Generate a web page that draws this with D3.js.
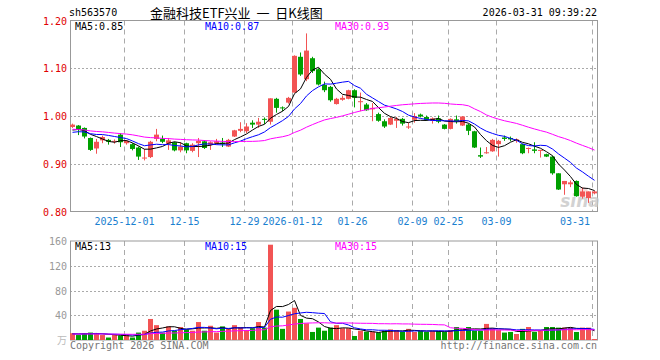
<!DOCTYPE html>
<html>
<head>
<meta charset="utf-8">
<script src="https://cdn.jsdelivr.net/npm/d3@7"></script>
<style>
body { margin: 0; background: #fff; }
text { font-family: "DejaVu Sans Mono", "Liberation Mono", monospace; }
</style>
</head>
<body>
<div id="chart"></div>
<script>
// trading days shown
var dates = [
  "2025-11-18","2025-11-19","2025-11-20","2025-11-21","2025-11-24","2025-11-25","2025-11-26","2025-11-27","2025-11-28",
  "2025-12-01","2025-12-02","2025-12-03","2025-12-04","2025-12-05","2025-12-08","2025-12-09","2025-12-10","2025-12-11","2025-12-12",
  "2025-12-15","2025-12-16","2025-12-17","2025-12-18","2025-12-19","2025-12-22","2025-12-23","2025-12-24","2025-12-25","2025-12-26",
  "2025-12-29","2025-12-30","2025-12-31","2026-01-05","2026-01-06","2026-01-07","2026-01-08","2026-01-09",
  "2026-01-12","2026-01-13","2026-01-14","2026-01-15","2026-01-16","2026-01-19","2026-01-20","2026-01-21","2026-01-22","2026-01-23",
  "2026-01-26","2026-01-27","2026-01-28","2026-01-29","2026-01-30","2026-02-02","2026-02-03","2026-02-04","2026-02-05","2026-02-06",
  "2026-02-09","2026-02-10","2026-02-11","2026-02-12","2026-02-13","2026-02-24",
  "2026-02-25","2026-02-26","2026-02-27","2026-03-02","2026-03-03","2026-03-04","2026-03-05","2026-03-06",
  "2026-03-09","2026-03-10","2026-03-11","2026-03-12","2026-03-13","2026-03-16","2026-03-17","2026-03-18","2026-03-19","2026-03-20",
  "2026-03-23","2026-03-24","2026-03-25","2026-03-26","2026-03-27","2026-03-30","2026-03-31"
];
var opens = [
  0.977,0.980,0.975,0.954,0.932,0.949,0.950,0.946,0.961,
  0.943,0.941,0.934,0.911,0.914,0.952,0.952,0.942,0.945,0.928,
  0.943,0.927,0.943,0.947,0.940,0.943,0.944,0.936,0.957,0.969,
  0.968,0.986,0.982,0.994,0.988,1.036,1.018,1.028,
  1.049,1.124,1.077,1.121,1.098,1.065,1.061,1.025,1.034,1.036,
  1.054,1.029,1.024,1.014,1.004,0.989,0.982,0.990,0.994,0.976,
  0.992,1.003,0.998,0.990,0.995,0.982,
  0.973,0.993,0.980,0.982,0.968,0.918,0.922,0.926,
  0.941,0.955,0.954,0.948,0.941,0.931,0.930,0.927,0.920,0.915,
  0.880,0.857,0.857,0.864,0.831,0.828,0.838
];
var highs = [
  0.984,0.981,0.976,0.955,0.952,0.959,0.952,0.951,0.964,
  0.950,0.943,0.936,0.931,0.948,0.973,0.959,0.954,0.946,0.945,
  0.944,0.943,0.954,0.949,0.947,0.952,0.954,0.952,0.971,0.987,
  0.985,0.991,0.996,0.997,1.037,1.038,1.020,1.040,
  1.127,1.133,1.173,1.124,1.100,1.072,1.063,1.038,1.043,1.055,
  1.056,1.049,1.027,1.027,1.007,0.993,0.998,0.998,0.996,0.986,
  1.006,1.005,1.001,0.997,1.001,0.983,
  0.995,1.001,1.000,0.984,0.969,0.934,0.935,0.952,
  0.950,0.959,0.957,0.953,0.942,0.934,0.945,0.929,0.921,0.917,
  0.880,0.864,0.865,0.865,0.850,0.842,0.844
];
var lows = [
  0.975,0.960,0.953,0.927,0.921,0.943,0.940,0.942,0.935,
  0.940,0.928,0.908,0.907,0.912,0.947,0.943,0.929,0.926,0.924,
  0.922,0.924,0.914,0.931,0.929,0.940,0.935,0.935,0.956,0.966,
  0.964,0.975,0.975,0.983,0.982,1.007,1.010,1.026,
  1.049,1.084,1.073,1.090,1.064,1.050,1.030,1.024,1.032,1.035,
  1.018,1.010,1.011,0.989,0.988,0.975,0.981,0.975,0.980,0.973,
  0.986,0.997,0.990,0.984,0.985,0.972,
  0.972,0.984,0.979,0.960,0.933,0.912,0.921,0.925,
  0.915,0.948,0.947,0.944,0.920,0.922,0.922,0.913,0.914,0.877,
  0.845,0.835,0.851,0.831,0.827,0.818,0.836
];
var closes = [
  0.982,0.971,0.957,0.929,0.946,0.956,0.946,0.948,0.945,
  0.948,0.931,0.915,0.913,0.946,0.961,0.946,0.949,0.928,0.936,
  0.928,0.940,0.948,0.933,0.945,0.947,0.941,0.950,0.970,0.973,
  0.978,0.982,0.988,0.992,1.037,1.017,1.016,1.038,
  1.126,1.087,1.137,1.094,1.066,1.054,1.033,1.036,1.038,1.054,
  1.038,1.031,1.012,1.017,0.990,0.978,0.996,0.994,0.984,0.978,
  1.000,0.999,0.992,0.995,0.988,0.973,
  0.994,0.989,0.999,0.969,0.934,0.915,0.924,0.950,
  0.948,0.952,0.951,0.951,0.922,0.933,0.927,0.929,0.915,0.880,
  0.846,0.864,0.861,0.832,0.842,0.842,0.842
];
// volume in 万
var volumes = [
  11,8,11,12,11,8,4,8,7,
  8,4,12,15,34,24,12,22,15,21,
  17,15,29,15,23,12,22,18,24,21,
  16,19,29,20,154,49,18,46,
  52,34,27,13,20,15,20,24,19,19,
  6.5,15,13.5,13.5,12,15,17,16,13.5,18,
  13,14.6,13,14.6,14.6,13,
  16,21,17,21,15,15,26,19,
  16,12,13,9.7,18,21,13,14.6,21,21,
  20,20,20,13,20,20,1.6
];
// the 29 sessions before the first one shown, only used by the moving averages
var prevCloses = [0.984,0.990,0.987,0.981,0.978,0.985,0.988,0.980,0.975,0.979,0.984,0.986,0.979,0.976,0.981,
  0.962,0.957,0.954,0.950,0.953,0.958,0.962,0.966,0.962,0.957,0.965,0.970,0.967,0.969];
var prevVolumes = [10,9,11,12,8,10,9,11,10,8,9,12,10,9,8,10,11,9,10,8,9,10,11,9,8,10,9,11,10];

var priceTicks = [0.80, 0.90, 1.00, 1.10, 1.20];
var volumeTicks = [40, 80, 120, 160];
var tickDates = ["2025-12-01","2025-12-15","2025-12-29","2026-01-12","2026-01-26","2026-02-09","2026-02-25","2026-03-09","2026-03-31"];
var tickLabels = ["2025-12-01","12-15","12-29","2026-01-12","01-26","02-09","02-25","03-09","03-31"];
var priceMaLabels = ["MA5:0.85", "MA10:0.87", "MA30:0.93"];
var volumeMaLabels = ["MA5:13", "MA10:15", "MA30:15"];
var maPeriods = [5, 10, 30];
var maColors = ["#000000", "#0000ff", "#ff00ff"];

var upColor = "#f25454", downColor = "#00a000", gridColor = "#aaaaaa";
var W = 660, H = 360;
var left = 70, right = 597;
var priceTop = 20.5, priceBottom = 211.5;
var volTop = 241, volBottom = 340;

var svg = d3.select("#chart").append("svg").attr("width", W).attr("height", H);

var x = d3.scaleBand().domain(d3.range(dates.length)).range([left, right]).paddingInner(1 / 6).paddingOuter(0);
var yP = d3.scaleLinear().domain([0.8, 1.2]).range([priceBottom, priceTop]);
var yV = d3.scaleLinear().domain([0, 160]).range([volBottom, volTop]);
var bw = x.bandwidth();

function movingAvg(prev, values, n) {
  var all = prev.concat(values);
  return values.map(function (v, i) {
    var k = i + prev.length;
    return d3.mean(all.slice(k - n + 1, k + 1));
  });
}

// header
svg.append("text").attr("x", 69).attr("y", 16).attr("font-size", 10).attr("fill", "#000").text("sh563570");
svg.append("text").attr("x", 150).attr("y", 18).attr("font-size", 13)
  .style("font-family", "'Noto Sans CJK SC', sans-serif").style("white-space", "pre").attr("fill", "#000")
  .text("金融科技ETF兴业  一  日K线图");
svg.append("text").attr("x", 597).attr("y", 16).attr("font-size", 10).attr("text-anchor", "end")
  .attr("fill", "#000").text("2026-03-31 09:39:22");

function drawPanel(top, bottom, yScale, hTicks) {
  let g = svg.append("g");
  // horizontal dotted grid
  g.selectAll(".hgrid").data(hTicks).enter().append("line")
    .attr("x1", left).attr("x2", right)
    .attr("y1", d => Math.round(yScale(d)) + 0.5).attr("y2", d => Math.round(yScale(d)) + 0.5)
    .attr("stroke", gridColor).attr("stroke-dasharray", "2,2");
  // vertical dashed grid at date ticks
  g.selectAll(".vgrid").data(tickDates).enter().append("line")
    .attr("x1", d => x(dates.indexOf(d)) + 0.5).attr("x2", d => x(dates.indexOf(d)) + 0.5)
    .attr("y1", top).attr("y2", bottom)
    .attr("stroke", gridColor).attr("stroke-dasharray", "5,4");
  g.append("rect").attr("x", left + 0.5).attr("y", top).attr("width", right - left).attr("height", bottom - top)
    .attr("fill", "none").attr("stroke", "#999");
  return g;
}

drawPanel(priceTop, priceBottom, yP, [0.90, 1.00, 1.10]);
drawPanel(volTop, volBottom, yV, [40, 80, 120]);

// price axis labels
svg.selectAll(".ptick").data(priceTicks).enter().append("text")
  .attr("x", 67).attr("y", d => yP(d) + 4).attr("text-anchor", "end").attr("font-size", 10)
  .attr("fill", "#e00000").text(d => d.toFixed(2));

// volume axis labels
svg.selectAll(".vtick").data(volumeTicks).enter().append("text")
  .attr("x", 67).attr("y", d => yV(d) + 4).attr("text-anchor", "end").attr("font-size", 10)
  .attr("fill", "#999").text(d => d);
svg.append("text").attr("x", 67).attr("y", volBottom + 4).attr("text-anchor", "end").attr("font-size", 10)
  .style("font-family", "'Noto Sans CJK SC', sans-serif").attr("fill", "#bbb").text("万");

// date labels
svg.selectAll(".dtick").data(tickDates).enter().append("text")
  .attr("x", function (d) {
    let cx = x(dates.indexOf(d)) + 0.5;
    let w = tickLabels[tickDates.indexOf(d)].length * 6;
    return Math.min(cx, 590 - w / 2);
  })
  .attr("y", 225).attr("text-anchor", "middle").attr("font-size", 10).attr("fill", "#1a80d0")
  .text((d, i) => tickLabels[i]);

// watermark
svg.append("text").attr("x", 580).attr("y", 207).attr("text-anchor", "middle")
  .attr("font-size", 17).attr("font-style", "italic").attr("font-weight", "bold")
  .style("font-family", "'DejaVu Sans', sans-serif")
  .attr("fill", "#c8c8c8").attr("opacity", 0.8).text("sina");
svg.append("circle").attr("cx", 583).attr("cy", 192).attr("r", 5).attr("fill", "#f0a0a0").attr("opacity", 0.4);

// candles
var candles = svg.append("g").selectAll("g").data(dates).enter().append("g");
candles.append("line")
  .attr("x1", (d, i) => x(i) + 2.5).attr("x2", (d, i) => x(i) + 2.5)
  .attr("y1", (d, i) => yP(highs[i])).attr("y2", (d, i) => yP(lows[i]))
  .attr("stroke", (d, i) => closes[i] >= opens[i] ? upColor : downColor);
candles.append("rect")
  .attr("x", (d, i) => x(i)).attr("width", bw)
  .attr("y", (d, i) => yP(Math.max(opens[i], closes[i])))
  .attr("height", (d, i) => Math.max(1, Math.abs(yP(opens[i]) - yP(closes[i]))))
  .attr("fill", (d, i) => closes[i] >= opens[i] ? upColor : downColor);

// volume bars
svg.append("g").selectAll("rect").data(volumes).enter().append("rect")
  .attr("x", (d, i) => x(i)).attr("width", bw)
  .attr("y", d => yV(d)).attr("height", d => volBottom - yV(d))
  .attr("fill", (d, i) => closes[i] >= opens[i] ? upColor : downColor);

// moving average lines
maPeriods.forEach(function (n, k) {
  let pm = movingAvg(prevCloses, closes, n);
  let vm = movingAvg(prevVolumes, volumes, n);
  let line = d3.line().x((d, i) => x(i) + 2.5);
  svg.append("path").datum(pm).attr("fill", "none").attr("stroke", maColors[k]).attr("stroke-width", 1)
    .attr("d", line.y(d => yP(d)));
  svg.append("path").datum(vm).attr("fill", "none").attr("stroke", maColors[k]).attr("stroke-width", 1)
    .attr("d", line.y(d => yV(d)));
});

// MA legends
[0, 1, 2].forEach(function (k) {
  svg.append("text").attr("x", 75 + 130 * k).attr("y", 30).attr("font-size", 10)
    .attr("fill", maColors[k]).text(priceMaLabels[k]);
  svg.append("text").attr("x", 75 + 130 * k).attr("y", 250).attr("font-size", 10)
    .attr("fill", maColors[k]).text(volumeMaLabels[k]);
});

// footer
svg.append("text").attr("x", 70).attr("y", 349).attr("font-size", 10).attr("fill", "#777").text("Copyright 2026 SINA.COM");
svg.append("text").attr("x", 597).attr("y", 349).attr("font-size", 10).attr("text-anchor", "end")
  .attr("fill", "#777").text("http://finance.sina.com.cn");
</script>
</body>
</html>
